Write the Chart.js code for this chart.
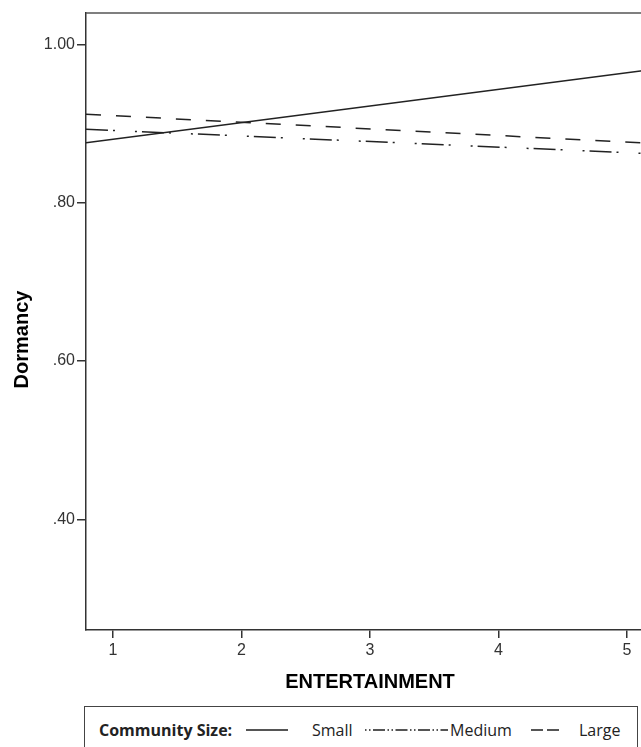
<!DOCTYPE html>
<html>
<head>
<meta charset="utf-8">
<script src="https://cdn.jsdelivr.net/npm/chart.js@4/dist/chart.umd.min.js"></script>
<style>
  html, body { margin: 0; padding: 0; background: #fff; overflow: hidden; }
  #wrap { position: relative; width: 641px; height: 747px; overflow: hidden; }
  #dataChart { position: absolute; left: 0; top: 0; }
  #legend {
    position: absolute; left: 84px; top: 706px; width: 554px; height: 60px;
    border: 1.5px solid #444; box-sizing: border-box;
    font-family: "Open Sans", sans-serif; font-size: 16px; color: #222;
  }
  #legend span { position: absolute; top: 13px; line-height: 20px; white-space: nowrap; }
  #legend svg { position: absolute; top: 21px; }
</style>
</head>
<body>
<div id="wrap">
  <canvas id="dataChart" width="660" height="700"></canvas>
  <div id="legend"></div>
</div>
<script>
// Fitted lines run across the whole frame, so values are read where they meet its edges
const xEdges = [0.79, 5.21];
const xTicks = [1, 2, 3, 4, 5];
const yTicks = [0.40, 0.60, 0.80, 1.00];

const seriesNames = ["Small", "Medium", "Large"];
const smallValues = [0.876, 0.969];
const mediumValues = [0.893, 0.862];
const largeValues = [0.912, 0.875];

const legendTitle = "Community Size:";

// line styles per series
const lineDashes = [[], [22, 5, 2, 20, 2, 5], [15, 15]];
const legendDashes = ["none", "1.5,2.5,1.5,2.5,12,2.5", "12,4"];
// legend layout, px from the legend box
const legendSlots = [
  { sample: 161, width: 42, label: 227 },
  { sample: 280, width: 83, label: 365 },
  { sample: 446, width: 28, label: 494 },
];

const tickFont = { family: "'Liberation Sans', Arial, sans-serif", size: 16 };
const titleFont = { family: "'Liberation Sans', Arial, sans-serif", size: 20, weight: "bold" };

/**
 * Draws the top edge of the frame and the rotated y title.
 */
const frameExtras = {
  id: "frameExtras",
  afterDraw(chart) {
    const { ctx, chartArea } = chart;
    ctx.save();
    ctx.strokeStyle = "#555";
    ctx.lineWidth = 1.5;
    ctx.beginPath();
    ctx.moveTo(chartArea.left, chartArea.top);
    ctx.lineTo(chartArea.right, chartArea.top);
    ctx.stroke();

    ctx.translate(22, (chartArea.top + chartArea.bottom) / 2 + 18);
    ctx.rotate(-Math.PI / 2);
    ctx.font = "bold 20px 'Liberation Sans', Arial, sans-serif";
    ctx.fillStyle = "#000";
    ctx.textAlign = "center";
    ctx.textBaseline = "middle";
    ctx.fillText("Dormancy", 0, 0);
    ctx.restore();
  },
};

function toPoints(values) {
  return xEdges.map((x, i) => ({ x: x, y: values[i] }));
}

function initializeChart() {
  const ctx = document.getElementById("dataChart").getContext("2d");
  const allValues = [smallValues, mediumValues, largeValues];

  new Chart(ctx, {
    type: "line",
    data: {
      datasets: seriesNames.map((name, i) => ({
        label: name,
        data: toPoints(allValues[i]),
        borderColor: "#222",
        borderWidth: 1.5,
        borderDash: lineDashes[i],
        pointRadius: 0,
        tension: 0,
        fill: false,
      })),
    },
    options: {
      responsive: false,
      animation: false,
      layout: { padding: { top: 13, right: 6, left: 0, bottom: 0 } },
      plugins: {
        legend: { display: false },
        tooltip: { enabled: false },
      },
      scales: {
        x: {
          type: "linear",
          min: xEdges[0],
          max: xEdges[1],
          afterBuildTicks: (scale) => { scale.ticks = xTicks.map((v) => ({ value: v })); },
          afterFit: (scale) => { scale.height = 70; },
          ticks: { font: tickFont, color: "#333", padding: 3 },
          grid: { drawOnChartArea: false, drawTicks: true, tickLength: 8, color: "#333", lineWidth: 1.5 },
          border: { color: "#333", width: 1.5 },
          title: {
            display: true,
            text: "ENTERTAINMENT",
            font: titleFont,
            color: "#000",
            padding: { top: 0, bottom: 6 },
          },
        },
        y: {
          min: 0.26,
          max: 1.04,
          afterBuildTicks: (scale) => { scale.ticks = yTicks.map((v) => ({ value: v })); },
          afterFit: (scale) => { scale.width = 86; },
          ticks: {
            font: tickFont,
            color: "#333",
            padding: 2,
            callback: (v) => v.toFixed(2).replace(/^0/, ""),
          },
          grid: { drawOnChartArea: false, drawTicks: true, tickLength: 9, color: "#333", lineWidth: 1.5 },
          border: { color: "#333", width: 1.5 },
        },
      },
    },
    plugins: [frameExtras],
  });
}

function buildLegend() {
  const box = document.getElementById("legend");
  const title = document.createElement("span");
  title.textContent = legendTitle;
  title.style.left = "14px";
  title.style.fontWeight = "bold";
  box.appendChild(title);

  seriesNames.forEach((name, i) => {
    const slot = legendSlots[i];
    const svgNS = "http://www.w3.org/2000/svg";
    const svg = document.createElementNS(svgNS, "svg");
    svg.setAttribute("width", slot.width);
    svg.setAttribute("height", 4);
    svg.style.left = slot.sample + "px";
    const line = document.createElementNS(svgNS, "line");
    line.setAttribute("x1", 0);
    line.setAttribute("x2", slot.width);
    line.setAttribute("y1", 2);
    line.setAttribute("y2", 2);
    line.setAttribute("stroke", "#555");
    line.setAttribute("stroke-width", 2);
    line.setAttribute("stroke-dasharray", legendDashes[i]);
    svg.appendChild(line);
    box.appendChild(svg);

    const label = document.createElement("span");
    label.textContent = name;
    label.style.left = slot.label + "px";
    box.appendChild(label);
  });
}

window.onload = function () {
  initializeChart();
  buildLegend();
};
</script>
</body>
</html>
